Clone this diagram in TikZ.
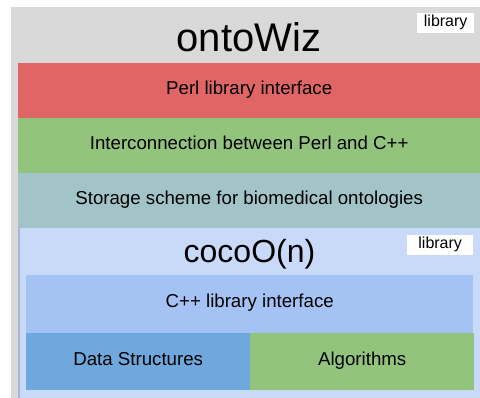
\documentclass[tikz,border=0pt]{standalone}
\usepackage{fontspec}
\setmainfont{Liberation Sans}
\usetikzlibrary{positioning}
\definecolor{wizgray}{HTML}{D9D9D9}
\definecolor{perlred}{HTML}{E06666}
\definecolor{linkgreen}{HTML}{93C47D}
\definecolor{storeteal}{HTML}{A2C4C9}
\definecolor{cocoblue}{HTML}{C9DAF8}
\definecolor{cppblue}{HTML}{A4C2F4}
\definecolor{datablue}{HTML}{6FA8DC}
\definecolor{cocoedge}{HTML}{A8B6D2}
\tikzset{
	layer/.style={
		rectangle,
		inner sep=0pt,
		minimum width=462pt,
		minimum height=55pt,
		text height=0.905em,
		text depth=0.212em,
		font=\fontsize{18.67}{22}\selectfont},
	tag/.style={
		rectangle,
		fill=white,
		inner sep=0pt,
		minimum height=20pt,
		text height=0.905em,
		text depth=0.212em,
		font=\fontsize{16}{19}\selectfont},
	title/.style={anchor=base, font=\fontsize{40}{48}\selectfont},
	subtitle/.style={anchor=base, font=\fontsize{32}{38}\selectfont},
}
\begin{document}
\begin{tikzpicture}
	[x=1pt, y=-1pt,
	node distance=0pt]

\useasboundingbox (0,0) rectangle (480,398);
\fill[wizgray] (11,7) rectangle (480,398);

% ontoWiz
\node[title] (wiz) at (249,52) {ontoWiz};
\node[tag, minimum width=57pt, anchor=north west] (wiztag) at (417,13) {library};
\node[layer, fill=perlred, anchor=north west] (perl) at (18,63) {Perl library interface};
\node[layer, fill=linkgreen, below=-0.4pt of perl] (link) {Interconnection between Perl and C++};
\node[layer, fill=storeteal, below=-0.4pt of link] (store) {Storage scheme for biomedical ontologies};

% cocoO(n)
\node[rectangle, inner sep=0pt, fill=cocoblue, minimum width=462pt, minimum height=170pt, below=-0.4pt of store] (coco) {};
\draw[cocoedge, line width=1.5pt] ([xshift=0.75pt]coco.north west) -- ([xshift=0.75pt]coco.south west);
\node[subtitle] (cocotitle) at (249.5,263) {cocoO(n)};
\node[tag, minimum width=66pt, anchor=north west] (cocotag) at (407,235) {library};
\node[layer, fill=cppblue, minimum width=447pt, minimum height=58pt, anchor=north west] (cpp) at (26,275) {C++ library interface};
\node[layer, fill=datablue, minimum width=224pt, minimum height=57pt, anchor=north west] (data) at ([yshift=0.4pt]cpp.south west) {Data Structures};
\node[layer, fill=linkgreen, minimum width=224pt, minimum height=57pt, right=-0.4pt of data] (algo) {Algorithms};
\end{tikzpicture}
\end{document}
